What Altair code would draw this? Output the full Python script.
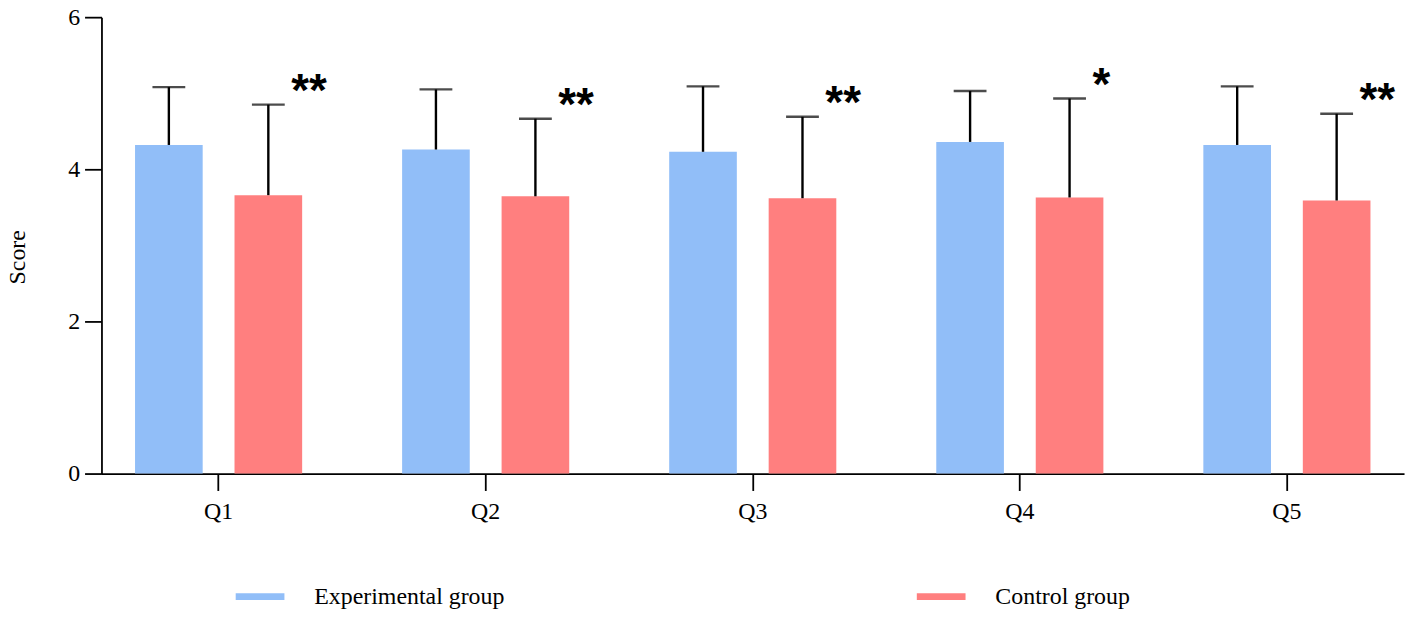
import altair as alt
import pandas as pd

questions = ["Q1", "Q2", "Q3", "Q4", "Q5"]
groups = ["Experimental group", "Control group"]
exp_mean = [4.32, 4.26, 4.23, 4.36, 4.32]
exp_sd = [0.76, 0.79, 0.86, 0.67, 0.77]
ctrl_mean = [3.66, 3.645, 3.62, 3.63, 3.59]
ctrl_sd = [1.19, 1.02, 1.07, 1.30, 1.14]
sig = ["**", "**", "**", "*", "**"]
colors = ["#91BEF8", "#FF7F7F"]

rows = []
for i, q in enumerate(questions):
    rows.append({"Q": q, "group": groups[0], "mean": exp_mean[i],
                 "upper": exp_mean[i] + exp_sd[i], "label": ""})
    rows.append({"Q": q, "group": groups[1], "mean": ctrl_mean[i],
                 "upper": ctrl_mean[i] + ctrl_sd[i], "label": sig[i]})
df = pd.DataFrame(rows)

x_enc = alt.X("Q:N", sort=questions,
              scale=alt.Scale(paddingInner=0.3743, paddingOuter=0.1257),
              axis=alt.Axis(title=None, labelAngle=0, labelPadding=9))
xo_enc = alt.XOffset("group:N", sort=groups,
                     scale=alt.Scale(domain=groups, paddingInner=0.32, paddingOuter=0))
y_scale = alt.Scale(domain=[0, 6], nice=False, zero=True)
y_axis = alt.Axis(title="Score", values=[0, 2, 4, 6], format="d", labelPadding=5,
                  titleX=-72, titleY=241, titleAngle=270, titleBaseline="bottom",
                  titleAlign="center")

base = alt.Chart(df)

bars = base.mark_bar().encode(
    x=x_enc,
    xOffset=xo_enc,
    y=alt.Y("mean:Q", scale=y_scale, axis=y_axis),
    color=alt.Color("group:N", scale=alt.Scale(domain=groups, range=colors),
                    legend=alt.Legend(title=None, orient="none", legendX=135, legendY=558,
                                      direction="horizontal", columnPadding=414,
                                      labelOffset=30, padding=0, labelLimit=600)),
)

rules = base.mark_rule(color="black", strokeWidth=2.4).encode(
    x=x_enc, xOffset=xo_enc,
    y=alt.Y("mean:Q", scale=y_scale),
    y2="upper:Q",
)

caps = base.mark_tick(color="black", size=33, thickness=2.4, orient="horizontal").encode(
    x=x_enc, xOffset=xo_enc,
    y=alt.Y("upper:Q", scale=y_scale),
)

stars = base.transform_filter("datum.label != ''").mark_text(
    align="left", baseline="alphabetic", dx=23, dy=1,
    font="Liberation Sans", fontWeight="bold", fontSize=46, color="black"
).encode(
    x=x_enc, xOffset=xo_enc,
    y=alt.Y("upper:Q", scale=y_scale),
    text="label:N",
)

chart = alt.layer(bars, rules, caps, stars).properties(
    width=1310, height=459,
    padding={"left": 94, "top": 7.5, "right": 6, "bottom": 136},
    autosize=alt.AutoSizeParams(type="none"),
).configure_view(stroke=None).configure_axis(
    grid=False, domainColor="black", domainWidth=1.8, tickColor="black",
    tickWidth=1.8, tickSize=17, labelFont="Liberation Serif", labelFontSize=24,
    labelColor="black", titleFont="Liberation Serif", titleFontSize=24,
    titleFontWeight="normal", titleColor="black",
).configure_legend(
    symbolType="M-1,-0.143L1,-0.143L1,0.143L-1,0.143Z", symbolSize=2401,
    symbolStrokeWidth=0, symbolOpacity=1, labelFont="Liberation Serif",
    labelFontSize=24, labelColor="black",
)

chart.save("out.html", embed_options={"renderer": "svg", "actions": False})
